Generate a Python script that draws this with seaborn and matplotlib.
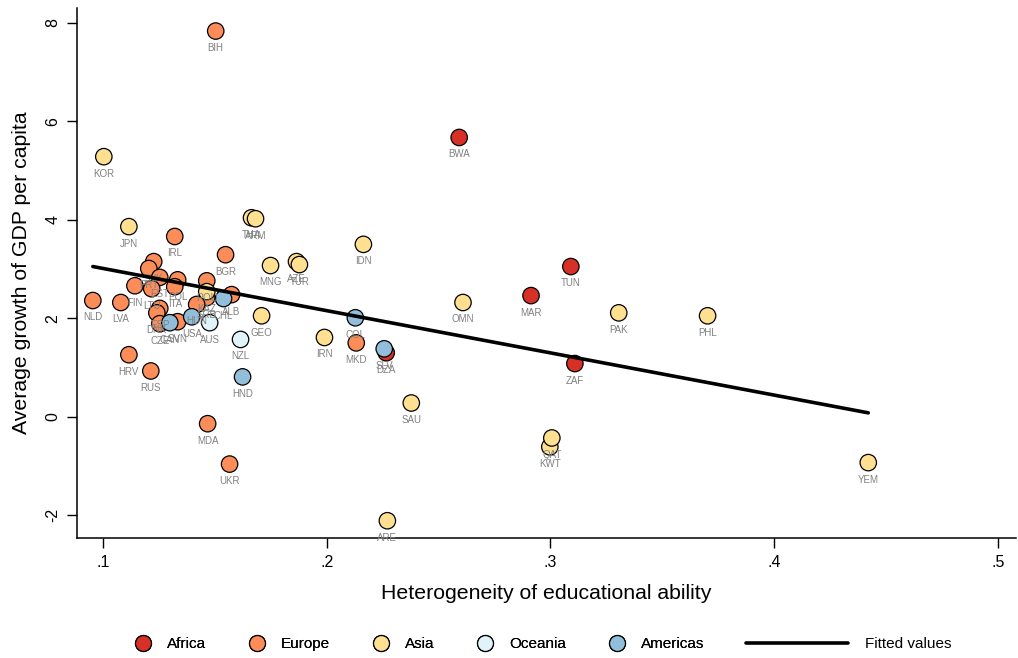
"""
Growth vs heterogeneity of educational ability, scatter with fitted line.
"""

import numpy as np
import pandas as pd
import matplotlib
matplotlib.use("Agg")
import matplotlib.pyplot as plt
from matplotlib.lines import Line2D
import seaborn as sns

# data
africa_codes = ["BWA", "TUN", "MAR", "ZAF", "DZA"]
africa_x = [0.2592, 0.3091, 0.2913, 0.3109, 0.2266]
africa_y = [5.67, 3.05, 2.46, 1.08, 1.30]

europe_codes = ["BIH", "IRL", "BGR", "NLD", "LVA", "FIN", "SVK", "PRT", "EST",
                "POL", "ITA", "LTU", "ESP", "DNK", "CZE", "SVN", "ROU", "SRB",
                "ALB", "HUN", "HRV", "RUS", "MDA", "UKR", "MKD"]
europe_x = [0.1504, 0.1321, 0.1548, 0.0955, 0.1080, 0.1143, 0.1227, 0.1205, 0.1254,
            0.1334, 0.1321, 0.1218, 0.1254, 0.1241, 0.1254, 0.1334, 0.1464, 0.1464,
            0.1575, 0.1419, 0.1116, 0.1214, 0.1468, 0.1566, 0.2132]
europe_y = [7.83, 3.66, 3.29, 2.36, 2.32, 2.66, 3.15, 3.01, 2.83,
            2.78, 2.64, 2.60, 2.20, 2.11, 1.89, 1.93, 2.76, 2.42,
            2.48, 2.28, 1.26, 0.93, -0.14, -0.96, 1.50]

asia_codes = ["KOR", "JPN", "THA", "ARM", "IDN", "MNG", "AZE", "TUR", "KAZ", "GEO",
              "IRN", "OMN", "PAK", "PHL", "SAU", "KWT", "QAT", "ARE", "YEM"]
asia_x = [0.1004, 0.1116, 0.1664, 0.1682, 0.2164, 0.1749, 0.1865, 0.1878, 0.1464, 0.1709,
          0.1990, 0.2609, 0.3305, 0.3702, 0.2378, 0.2997, 0.3006, 0.2271, 0.4420]
asia_y = [5.28, 3.86, 4.04, 4.02, 3.50, 3.07, 3.15, 3.09, 2.54, 2.05,
          1.61, 2.32, 2.11, 2.05, 0.28, -0.61, -0.43, -2.11, -0.93]

oceania_codes = ["AUS", "NZL"]
oceania_x = [0.1477, 0.1615]
oceania_y = [1.91, 1.57]

americas_codes = ["CAN", "USA", "CHL", "HND", "COL", "SLV"]
americas_x = [0.1299, 0.1397, 0.1539, 0.1624, 0.2128, 0.2257]
americas_y = [1.91, 2.03, 2.40, 0.81, 2.01, 1.38]

# fitted values as shown in the reference (ends of the line)
fit_x = [0.0955, 0.4420]
fit_y = [3.05, 0.08]

regions = ["Africa", "Europe", "Asia", "Oceania", "Americas"]
region_colors = ["#d73027", "#fc8d59", "#fee090", "#e0f3f8", "#91bfdb"]

x_ticks = [0.1, 0.2, 0.3, 0.4, 0.5]
x_tick_labels = [".1", ".2", ".3", ".4", ".5"]
y_ticks = [-2, 0, 2, 4, 6, 8]


def build_frame():
    parts = []
    groups = [
        ("Africa", africa_codes, africa_x, africa_y),
        ("Europe", europe_codes, europe_x, europe_y),
        ("Asia", asia_codes, asia_x, asia_y),
        ("Oceania", oceania_codes, oceania_x, oceania_y),
        ("Americas", americas_codes, americas_x, americas_y),
    ]
    for name, codes, xs, ys in groups:
        parts.append(pd.DataFrame({"code": codes, "hetero": xs,
                                   "growth": ys, "region": name}))
    return pd.concat(parts, ignore_index=True)


def main():
    df = build_frame()
    fit = pd.DataFrame({"hetero": fit_x, "growth": fit_y})
    palette = dict(zip(regions, region_colors))

    sns.set_style("ticks")
    plt.rcParams["font.family"] = ["Liberation Sans", "DejaVu Sans"]
    plt.rcParams["text.color"] = "black"
    plt.rcParams["axes.labelcolor"] = "black"

    fig = plt.figure(figsize=(10.18, 6.58), dpi=100)
    ax = fig.add_axes([0.0756, 0.1824, 0.9224, 0.8056])

    sns.scatterplot(data=df, x="hetero", y="growth", hue="region",
                    hue_order=regions, palette=palette, s=140,
                    edgecolor="black", linewidth=0.9, legend=False,
                    ax=ax, zorder=3)

    for _, row in df.iterrows():
        ax.annotate(row["code"], (row["hetero"], row["growth"]),
                    xytext=(0, -12.2), textcoords="offset points",
                    ha="center", va="center", fontsize=7, color="#808080",
                    zorder=4)

    sns.lineplot(data=fit, x="hetero", y="growth", color="black", lw=2.6,
                 ax=ax, zorder=5)

    ax.set_xlim(0.0884, 0.508)
    ax.set_ylim(-2.46, 8.3)
    ax.set_xticks(x_ticks)
    ax.set_xticklabels(x_tick_labels)
    ax.set_yticks(y_ticks)
    ax.set_yticklabels([str(v) for v in y_ticks], rotation=90, va="center")
    ax.tick_params(direction="out", length=7, width=1.0, labelsize=11.5,
                   pad=5, colors="black")
    for side in ["top", "right"]:
        ax.spines[side].set_visible(False)
    for side in ["left", "bottom"]:
        ax.spines[side].set_linewidth(1.1)
        ax.spines[side].set_color("black")

    ax.set_xlabel("Heterogeneity of educational ability", fontsize=15.3, labelpad=10)
    ax.set_ylabel("Average growth of GDP per capita", fontsize=15.3, labelpad=10)

    # legend: region markers, then the fitted line
    handles = [Line2D([], [], marker="o", linestyle="", markersize=11.5,
                      markerfacecolor=c, markeredgecolor="black",
                      markeredgewidth=0.9) for c in region_colors]
    leg1 = fig.legend(handles, regions, loc="center left",
                      bbox_to_anchor=(135 / 1018, 1 - 644 / 658), ncol=5,
                      frameon=False, fontsize=11, handlelength=1.0,
                      handletextpad=1.1, columnspacing=2.8, borderpad=0,
                      borderaxespad=0)
    line_handle = Line2D([], [], color="black", lw=2.6)
    fig.legend([line_handle], ["Fitted values"], loc="center left",
               bbox_to_anchor=(746 / 1018, 1 - 644 / 658), frameon=False,
               fontsize=11, handlelength=6.7, handletextpad=1.1,
               borderpad=0, borderaxespad=0)
    fig.add_artist(leg1)

    fig.savefig("out.png", dpi=100, facecolor="white")
    plt.close(fig)


if __name__ == "__main__":
    main()
